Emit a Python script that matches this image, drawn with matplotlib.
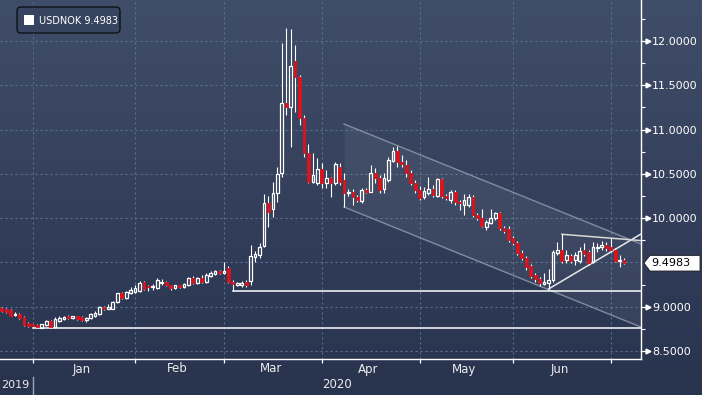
import numpy as np
import pandas as pd
import matplotlib
matplotlib.use("Agg")
import matplotlib.pyplot as plt
import matplotlib.transforms as mtransforms
from matplotlib.patches import FancyBboxPatch, Polygon, Rectangle

# ---------------- data ----------------
dates = pd.bdate_range("2019-12-23", "2020-07-06")
opens = [8.99, 8.98, 8.96, 8.91, 8.92, 8.88, 8.82,
         8.80, 8.79, 8.76, 8.79, 8.84, 8.77, 8.84, 8.86, 8.89, 8.87,
         8.89, 8.88, 8.85, 8.87, 8.89, 8.92, 9.00, 8.98, 8.98, 9.05,
         9.15, 9.10, 9.15, 9.17, 9.18, 9.28, 9.23, 9.22, 9.21, 9.27,
         9.28, 9.24, 9.21, 9.24, 9.22, 9.24, 9.33, 9.27, 9.32, 9.28,
         9.35, 9.37, 9.40, 9.38, 9.44, 9.28, 9.25, 9.25, 9.28, 9.29,
         9.56, 9.58, 9.69, 10.17, 10.10, 10.28, 10.51, 11.30, 11.25, 11.77,
         11.59, 11.13, 10.74, 10.41, 10.40, 10.55, 10.40, 10.45, 10.40, 10.58,
         10.43, 10.28, 10.30, 10.24, 10.19, 10.32, 10.30, 10.51, 10.45, 10.33,
         10.43, 10.65, 10.76, 10.63, 10.60, 10.51, 10.40, 10.32, 10.24, 10.28,
         10.33, 10.25, 10.44, 10.25, 10.21, 10.30, 10.18, 10.15, 10.15, 10.24,
         10.04, 10.00, 9.90, 9.95, 10.00, 10.06, 9.89, 9.88, 9.78, 9.72,
         9.61, 9.55, 9.46, 9.36, 9.31, 9.26, 9.27, 9.30, 9.61, 9.64,
         9.53, 9.57, 9.53, 9.52, 9.64, 9.62, 9.50, 9.66, 9.67, 9.70,
         9.68, 9.64, 9.52, 9.53]
highs = [9.00, 8.99, 8.97, 8.94, 8.93, 8.89, 8.83,
         8.81, 8.80, 8.81, 8.85, 8.85, 8.88, 8.89, 8.90, 8.91, 8.90,
         8.90, 8.89, 8.88, 8.93, 8.95, 9.01, 9.01, 9.03, 9.07, 9.16,
         9.17, 9.18, 9.22, 9.25, 9.29, 9.29, 9.25, 9.26, 9.32, 9.31,
         9.29, 9.25, 9.25, 9.25, 9.27, 9.34, 9.35, 9.34, 9.36, 9.38,
         9.40, 9.42, 9.41, 9.50, 9.46, 9.30, 9.28, 9.29, 9.30, 9.70,
         9.63, 9.72, 10.27, 10.25, 10.41, 10.58, 11.98, 12.15, 12.14, 11.95,
         11.62, 11.16, 10.84, 10.74, 10.68, 10.62, 10.54, 10.47, 10.63, 10.62,
         10.51, 10.33, 10.33, 10.26, 10.34, 10.34, 10.60, 10.57, 10.49, 10.51,
         10.69, 10.80, 10.82, 10.71, 10.66, 10.54, 10.43, 10.36, 10.35, 10.46,
         10.37, 10.45, 10.45, 10.27, 10.32, 10.32, 10.20, 10.27, 10.27, 10.26,
         10.06, 10.10, 9.98, 10.10, 10.07, 10.07, 9.91, 9.91, 9.80, 9.74,
         9.64, 9.57, 9.48, 9.38, 9.34, 9.38, 9.43, 9.64, 9.73, 9.82,
         9.64, 9.59, 9.62, 9.67, 9.72, 9.64, 9.73, 9.72, 9.74, 9.73,
         9.78, 9.66, 9.58, 9.55]
lows = [8.94, 8.93, 8.89, 8.89, 8.86, 8.78, 8.77,
        8.77, 8.76, 8.76, 8.78, 8.76, 8.76, 8.83, 8.85, 8.86, 8.86,
        8.85, 8.84, 8.83, 8.86, 8.88, 8.91, 8.96, 8.97, 8.97, 9.04,
        9.09, 9.09, 9.14, 9.16, 9.17, 9.19, 9.18, 9.19, 9.20, 9.24,
        9.23, 9.19, 9.20, 9.21, 9.21, 9.23, 9.26, 9.26, 9.27, 9.27,
        9.34, 9.36, 9.37, 9.37, 9.27, 9.18, 9.23, 9.22, 9.22, 9.24,
        9.50, 9.55, 9.68, 9.90, 10.01, 10.18, 10.47, 11.16, 10.80, 11.20,
        11.05, 10.69, 10.40, 10.40, 10.37, 10.34, 10.34, 10.24, 10.37, 10.37,
        10.13, 10.25, 10.15, 10.18, 10.17, 10.28, 10.29, 10.40, 10.28, 10.28,
        10.41, 10.63, 10.58, 10.58, 10.46, 10.37, 10.28, 10.20, 10.22, 10.26,
        10.24, 10.24, 10.23, 10.20, 10.17, 10.15, 10.09, 10.04, 10.13, 10.01,
        9.98, 9.90, 9.87, 9.93, 9.98, 9.87, 9.83, 9.73, 9.70, 9.58,
        9.53, 9.41, 9.32, 9.28, 9.23, 9.24, 9.20, 9.28, 9.58, 9.49,
        9.49, 9.49, 9.47, 9.49, 9.57, 9.47, 9.49, 9.62, 9.64, 9.63,
        9.62, 9.50, 9.45, 9.48]
closes = [8.95, 8.94, 8.90, 8.92, 8.87, 8.79, 8.78,
          8.78, 8.77, 8.80, 8.84, 8.77, 8.86, 8.87, 8.88, 8.87, 8.89,
          8.86, 8.85, 8.87, 8.92, 8.93, 9.00, 8.97, 9.00, 9.05, 9.15,
          9.10, 9.17, 9.19, 9.21, 9.27, 9.20, 9.22, 9.23, 9.30, 9.28,
          9.24, 9.21, 9.24, 9.22, 9.26, 9.33, 9.27, 9.32, 9.28, 9.36,
          9.38, 9.40, 9.38, 9.40, 9.28, 9.26, 9.27, 9.27, 9.24, 9.57,
          9.60, 9.68, 10.17, 10.07, 10.28, 10.50, 11.30, 11.25, 11.72, 11.59,
          11.13, 10.74, 10.41, 10.49, 10.55, 10.40, 10.45, 10.40, 10.61, 10.41,
          10.28, 10.30, 10.24, 10.20, 10.32, 10.30, 10.51, 10.45, 10.32, 10.45,
          10.66, 10.76, 10.63, 10.61, 10.51, 10.40, 10.32, 10.23, 10.31, 10.33,
          10.26, 10.44, 10.25, 10.23, 10.30, 10.18, 10.17, 10.20, 10.24, 10.04,
          10.00, 9.91, 9.96, 10.00, 10.06, 9.89, 9.86, 9.75, 9.72, 9.61,
          9.55, 9.45, 9.35, 9.31, 9.27, 9.28, 9.30, 9.62, 9.64, 9.52,
          9.58, 9.52, 9.58, 9.63, 9.60, 9.49, 9.67, 9.68, 9.70, 9.66,
          9.64, 9.52, 9.53, 9.4983]

y_major = [8.5, 9.0, 9.5, 10.0, 10.5, 11.0, 11.5, 12.0]
y_minor = [8.75, 9.25, 9.75, 10.25, 10.75, 11.25, 11.75, 12.25]
month_names = ["Jan", "Feb", "Mar", "Apr", "May", "Jun"]
last_label = "9.4983"
legend_label = "USDNOK 9.4983"

# drawn annotations (support / resistance / channel / triangle)
support_low = 8.76
support_low_start = "2020-01-01"
support_mid = 9.177
support_mid_start = "2020-03-04"
channel_start = "2020-04-08"
channel_upper = [11.063, 9.708]
channel_lower = [10.126, 8.771]
tri_rise_start = "2020-06-11"
tri_rise = [9.20, 9.821]
tri_top_start = "2020-06-16"
tri_top = [9.818, 9.747]

assert len(dates) == len(opens) == len(highs) == len(lows) == len(closes)

# ---------------- figure ----------------
W, H = 702, 395
fig = plt.figure(figsize=(W / 100, H / 100), dpi=100)

bg = fig.add_axes([0, 0, 1, 1], zorder=-10)
top_c = np.array([64, 77, 105]) / 255
bot_c = np.array([40, 51, 78]) / 255
g = np.linspace(0, 1, 256)[:, None, None]
img = top_c[None, None, :] + (bot_c - top_c)[None, None, :] * g
bg.imshow(img, aspect="auto", extent=[0, 1, 0, 1], origin="upper")
bg.axis("off")

PLOT_R, PLOT_B = 641, 359
ax = fig.add_axes([0, (H - PLOT_B) / H, PLOT_R / W, PLOT_B / H])
ax.set_facecolor("none")

dlist = list(dates)
i0 = dlist.index(pd.Timestamp("2020-01-01"))
idx = np.arange(len(dates)) - i0
pos = {d: k for d, k in zip(dlist, idx)}

o = np.array(opens); h = np.array(highs); l = np.array(lows); c = np.array(closes)
up = c >= o
dn = ~up

XL = (-7.38, 136.8)
YL = (8.410, 12.463)
ax.set_xlim(*XL)
ax.set_ylim(*YL)

# month boundaries
month_starts = []
for m in range(1, 8):
    first = dates[(dates.month == m) & (dates.year == 2020)][0]
    month_starts.append(pos[first])

grid_c = "#56708d"
for m in month_starts:
    ax.axvline(m, color=grid_c, lw=0.8, dashes=(2, 2.5), zorder=0.5)
for v in y_major:
    ax.axhline(v, color=grid_c, lw=0.8, dashes=(2, 2.5), zorder=0.5)

# channel
cx = [pos[pd.Timestamp(channel_start)], XL[1]]
ax.fill_between(cx, channel_lower, channel_upper, color="white", alpha=0.055, lw=0, zorder=1)
ax.plot(cx, channel_upper, color="#9aa3b6", lw=1.0, alpha=0.75, zorder=2)
ax.plot(cx, channel_lower, color="#9aa3b6", lw=1.0, alpha=0.75, zorder=2)

# support lines
ax.plot([pos[pd.Timestamp(support_low_start)], XL[1]], [support_low] * 2, color="white", lw=1.1, zorder=2)
ax.plot([pos[pd.Timestamp(support_mid_start)], XL[1]], [support_mid] * 2, color="white", lw=1.1, zorder=2)

# triangle
ax.plot([pos[pd.Timestamp(tri_rise_start)], XL[1]], tri_rise, color="#e8e8e8", lw=1.1, zorder=2)
ax.plot([pos[pd.Timestamp(tri_top_start)], XL[1]], tri_top, color="#d8d8d8", lw=1.1, zorder=2)

# candles
bw = 0.62
red = "#d9141c"
ax.vlines(idx, l, np.minimum(o, c), color="white", lw=0.8, zorder=3)
ax.vlines(idx, np.maximum(o, c), h, color="white", lw=0.8, zorder=3)
hu = np.maximum((c - o)[up], 0.01)
ax.bar(idx[up], hu, bottom=o[up], width=bw, facecolor="none", edgecolor="white", lw=0.9, zorder=4)
hd = np.maximum((o - c)[dn], 0.012)
ax.bar(idx[dn], hd, bottom=c[dn], width=bw, facecolor=red, edgecolor=red, lw=0.6, zorder=4)

# spines
for s in ["top", "left"]:
    ax.spines[s].set_visible(False)
for s in ["bottom", "right"]:
    ax.spines[s].set_color("white")
    ax.spines[s].set_linewidth(1.0)

# y axis on right
ax.yaxis.tick_right()
ax.set_yticks(y_major)
ax.set_yticklabels(["" if v == 9.5 else f"{v:.4f}" for v in y_major])
ax.set_yticks(y_minor, minor=True)
ax.tick_params(axis="y", which="major", length=0, pad=8, labelsize=8, labelcolor="white")
ax.tick_params(axis="y", which="minor", length=3, width=0.8, color="white")
ytr = mtransforms.blended_transform_factory(ax.transAxes, ax.transData)
for v in y_major:
    if v == 9.5:
        continue
    ax.plot([1.0, 1.0 + 5 / PLOT_R], [v, v], transform=ytr, color="white", lw=0.9, clip_on=False)
    ax.plot([1.0 + 6.5 / PLOT_R], [v], transform=ytr, marker=">", ms=3.5, color="white",
            mec="white", clip_on=False)

# x axis
ax.set_xticks(month_starts)
ax.set_xticklabels([])
ax.tick_params(axis="x", which="major", length=3, width=0.9, color="white", direction="out")
xtr = mtransforms.blended_transform_factory(ax.transData, ax.transAxes)
for k, name in enumerate(month_names):
    ctr = (month_starts[k] + month_starts[k + 1] - 1) / 2
    ax.text(ctr, (PLOT_B - 369) / PLOT_B, name, transform=xtr, ha="center", va="center",
            color="#ececec", fontsize=8.5)
ax.text((0 + XL[1]) / 2, (PLOT_B - 385) / PLOT_B, "2020", transform=xtr, ha="center",
        va="center", color="#ececec", fontsize=8.5)
ax.text(XL[0] + 0.15, (PLOT_B - 385) / PLOT_B, "2019", transform=xtr, ha="left", va="center",
        color="#ececec", fontsize=8)
ax.plot([0, 0], [(PLOT_B - 377) / PLOT_B, (PLOT_B - 395) / PLOT_B], transform=xtr,
        color="#a0a8b8", lw=1.0, clip_on=False)

# last value box
def fp(x, y):
    return (x / W, 1 - y / H)

box = Polygon([fp(644, 263), fp(650, 255.5), fp(700, 255.5), fp(700, 271), fp(650, 271)],
              closed=True, transform=fig.transFigure, facecolor="white", edgecolor="#222222",
              lw=0.6, zorder=10)
fig.add_artist(box)
fig.text(651 / W, 1 - 263.5 / H, last_label, color="black", fontsize=8, va="center",
         ha="left", zorder=11)

# legend box
idt = mtransforms.IdentityTransform()
leg = FancyBboxPatch((17, H - 33), 103, 26, boxstyle="round,pad=0,rounding_size=4",
                     transform=idt, facecolor="#37445f", edgecolor="#0e1218", lw=1.0, zorder=10)
fig.add_artist(leg)
sq = Rectangle((24, H - 25), 10, 10, transform=idt, facecolor="white", edgecolor="none", zorder=11)
fig.add_artist(sq)
fig.text(39 / W, 1 - 20.5 / H, legend_label, color="white", fontsize=7, va="center", ha="left",
         zorder=11)

fig.savefig("out.png", dpi=100)
